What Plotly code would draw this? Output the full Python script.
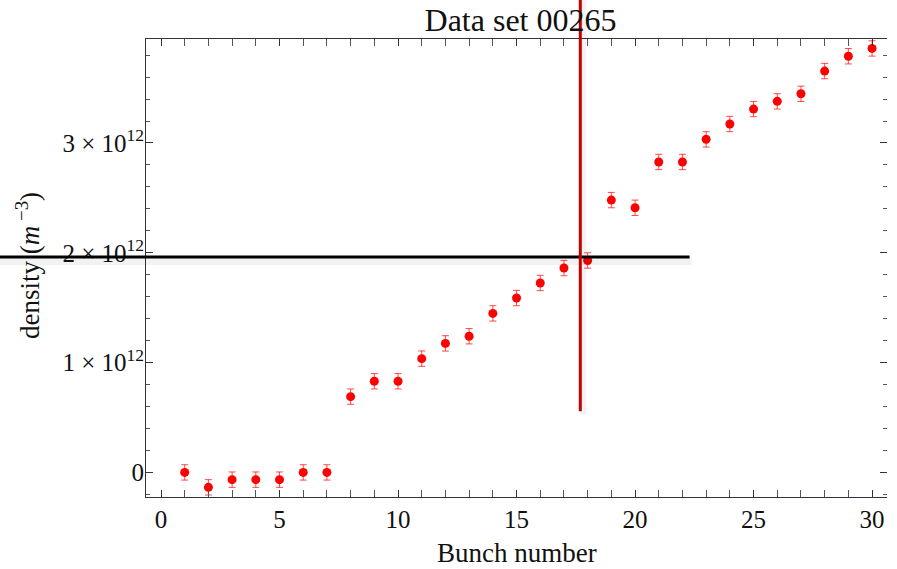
import plotly.graph_objects as go

# ---- data ----
bunch = list(range(1, 31))
density = [0.0, -0.136e12, -0.066e12, -0.066e12, -0.066e12, 0.0, 0.0,
           0.69e12, 0.83e12, 0.83e12, 1.036e12, 1.175e12, 1.24e12, 1.448e12,
           1.588e12, 1.725e12, 1.861e12, 1.93e12, 2.48e12, 2.41e12,
           2.827e12, 2.827e12, 3.033e12, 3.173e12, 3.309e12, 3.379e12,
           3.448e12, 3.655e12, 3.79e12, 3.861e12]
err = [0.07e12] * 30

x_tickvals = [0, 5, 10, 15, 20, 25, 30]
y_tickvals = [0, 1e12, 2e12, 3e12]
y_ticktext = ["0", "1 × 10<sup>12</sup>", "2 × 10<sup>12</sup>", "3 × 10<sup>12</sup>"]

title_text = "Data set 00265"
x_title = "Bunch number"
y_title = "density (<i>m</i><sup> −3</sup>)"

# marker lines (data coordinates)
hline_y = 1.962e12
hline_x = [-6.8, 22.3]
vline_x = 17.69
vline_ybottom = 0.557e12

# ---- layout geometry ----
W, H = 897, 569
ML, MR, MT, MB = 146, 10, 39, 72
PW, PH = W - ML - MR, H - MT - MB
xr = [-0.633, 30.63]
yr = [-0.224e12, 3.947e12]


def px(v):
    return (v - xr[0]) / (xr[1] - xr[0])


def py(v):
    return (v - yr[0]) / (yr[1] - yr[0])


SERIF = "Liberation Serif, Times New Roman, serif"

fig = go.Figure()
fig.add_trace(go.Scatter(
    x=bunch, y=density, mode="markers",
    marker=dict(color="#ff0000", size=9),
    error_y=dict(type="data", array=err, color="rgba(255,0,0,0.7)",
                 thickness=1, width=3.5),
    showlegend=False, hoverinfo="x+y",
))
# dummy trace for right-side tick axis
fig.add_trace(go.Scatter(x=[None], y=[None], yaxis="y2", showlegend=False))

tick_common = dict(ticks="inside", ticklen=7, tickcolor="#333", tickwidth=1, automargin=False)

fig.update_layout(
    width=W, height=H,
    margin=dict(l=ML, r=MR, t=MT, b=MB, autoexpand=False),
    paper_bgcolor="white", plot_bgcolor="white",
    font=dict(family=SERIF, color="#111"),
    title=dict(text=title_text, font=dict(family=SERIF, size=32, color="#111"),
               x=(520.5 - ML) / PW, xref="paper", xanchor="center",
               y=1 - 20 / H, yref="container", yanchor="middle"),
    xaxis=dict(range=xr, tickvals=x_tickvals, showgrid=False, zeroline=False,
               showline=True, linecolor="#333", linewidth=1, mirror="allticks",
               tickfont=dict(family=SERIF, size=25, color="#111"),
               ticklabelstandoff=0,
               minor=dict(dtick=1, ticks="inside", ticklen=4, tickcolor="#555", showgrid=False),
               **tick_common),
    yaxis=dict(range=yr, tickvals=y_tickvals, ticktext=y_ticktext, showgrid=False,
               zeroline=False, showline=True, linecolor="#333", linewidth=1, mirror=False,
               tickfont=dict(family=SERIF, size=25, color="#111"),
               ticklabelstandoff=-4,
               minor=dict(dtick=0.2e12, tick0=0, ticks="inside", ticklen=4, tickcolor="#555",
                          showgrid=False),
               **tick_common),
    yaxis2=dict(range=yr, overlaying="y", side="right", tickvals=y_tickvals,
                showticklabels=False, showgrid=False, zeroline=False, showline=False,
                minor=dict(dtick=0.2e12, tick0=0, ticks="inside", ticklen=4, tickcolor="#555",
                           showgrid=False),
                **tick_common),
)

# axis titles as annotations for exact placement
fig.add_annotation(text=x_title, xref="paper", yref="paper",
                   x=0.5, y=-(553 - (MT + PH)) / PH, xanchor="center", yanchor="middle",
                   showarrow=False, font=dict(family=SERIF, size=27, color="#111"))
fig.add_annotation(text=y_title, xref="paper", yref="paper",
                   x=-(ML - 28) / PW, y=(MT + PH - 266) / PH, xanchor="center", yanchor="middle",
                   textangle=-90, showarrow=False,
                   font=dict(family=SERIF, size=27, color="#111"))

# shadows
dy = 4 / PH
fig.add_shape(type="line", xref="paper", yref="paper",
              x0=px(hline_x[0]), x1=px(hline_x[1]) + 2 / PW,
              y0=py(hline_y) - dy, y1=py(hline_y) - dy,
              line=dict(color="rgba(0,0,0,0.05)", width=8))
fig.add_shape(type="line", xref="paper", yref="paper",
              x0=px(vline_x) + 3 / PW, x1=px(vline_x) + 3 / PW,
              y0=py(vline_ybottom) - 3 / PH, y1=1 + MT / PH,
              line=dict(color="rgba(0,0,0,0.05)", width=6))
# the two marker lines
fig.add_shape(type="line", xref="paper", yref="paper",
              x0=px(hline_x[0]), x1=px(hline_x[1]),
              y0=py(hline_y), y1=py(hline_y),
              line=dict(color="#000000", width=3))
fig.add_shape(type="line", xref="paper", yref="paper",
              x0=px(vline_x), x1=px(vline_x),
              y0=py(vline_ybottom), y1=1 + MT / PH,
              line=dict(color="#c40000", width=3))

fig.write_html("out.html")
